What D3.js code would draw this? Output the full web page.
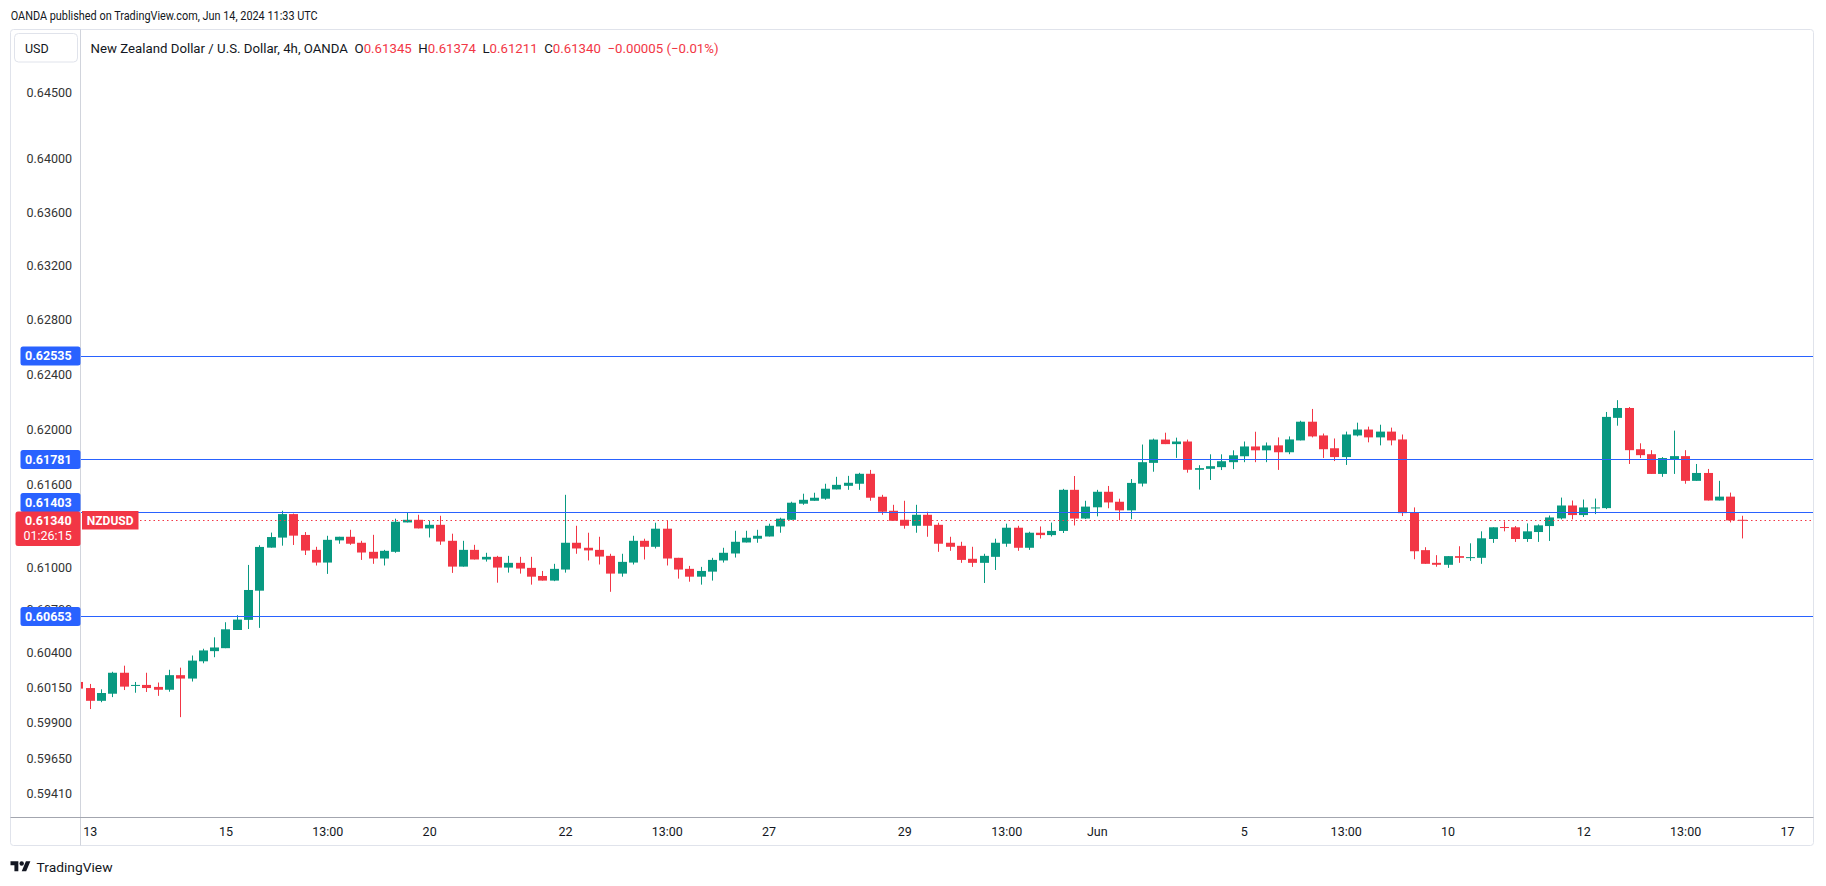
<!DOCTYPE html>
<html>
<head>
<meta charset="utf-8">
<script src="https://cdn.jsdelivr.net/npm/d3@7"></script>
<style>
  html, body { margin: 0; padding: 0; background: #ffffff; }
  svg { display: block; font-family: Roboto, "Noto Sans", Arial, sans-serif; }
</style>
</head>
<body>
<svg id="chart" width="1826" height="886"></svg>
<script>
// ---------------- DATA (NZDUSD 4h, OANDA) ----------------
// one entry per 4h bar; first bar is May 12 21:00 UTC, last is Jun 14 09:00 UTC
const opens = [
  0.60189,0.60146,0.60056,0.60106,0.60254,0.60163,0.60168,0.60154,0.60134,0.60237,
  0.60213,0.60335,0.60407,0.60428,0.60557,0.60629,0.60837,0.61145,0.61217,0.61386,
  0.61236,0.61129,0.61038,0.61197,0.61223,0.61180,0.61115,0.61067,0.61115,0.61326,
  0.61345,0.61283,0.61309,0.61194,0.61009,0.61129,0.61060,0.61079,0.61002,0.61036,
  0.61000,0.60942,0.60909,0.60988,0.61180,0.61144,0.61129,0.61086,0.60959,0.61038,
  0.61194,0.61151,0.61281,0.61072,0.60993,0.60937,0.60973,0.61053,0.61103,0.61182,
  0.61209,0.61225,0.61297,0.61345,0.61461,0.61482,0.61497,0.61564,0.61590,0.61605,
  0.61677,0.61511,0.61410,0.61345,0.61302,0.61381,0.61309,0.61180,0.61158,0.61065,
  0.61036,0.61079,0.61173,0.61288,0.61144,0.61252,0.61235,0.61265,0.61561,0.61354,
  0.61435,0.61547,0.61475,0.61413,0.61606,0.61756,0.61925,0.61892,0.61911,0.61706,
  0.61713,0.61725,0.61761,0.61804,0.61875,0.61847,0.61883,0.61833,0.61919,0.62055,
  0.61955,0.61862,0.61798,0.61955,0.61998,0.61941,0.61983,0.61926,0.61400,0.61127,
  0.61036,0.61022,0.61084,0.61072,0.61072,0.61207,0.61293,0.61291,0.61207,0.61257,
  0.61300,0.61355,0.61448,0.61379,0.61429,0.61429,0.62083,0.62155,0.61855,0.61819,
  0.61676,0.61783,0.61805,0.61626,0.61683,0.61484,0.61512,0.61345
];
const highs = [
  0.60195,0.60175,0.60137,0.60261,0.60304,0.60189,0.60254,0.60185,0.60275,0.60290,
  0.60376,0.60424,0.60505,0.60612,0.60662,0.61021,0.61162,0.61253,0.61410,0.61390,
  0.61257,0.61151,0.61230,0.61223,0.61273,0.61194,0.61237,0.61129,0.61353,0.61401,
  0.61381,0.61338,0.61374,0.61245,0.61194,0.61165,0.61108,0.61086,0.61086,0.61079,
  0.61079,0.60978,0.61029,0.61525,0.61302,0.61252,0.61223,0.61101,0.61101,0.61230,
  0.61209,0.61324,0.61338,0.61072,0.61014,0.61007,0.61072,0.61144,0.61266,0.61266,
  0.61273,0.61317,0.61360,0.61475,0.61533,0.61540,0.61605,0.61655,0.61662,0.61684,
  0.61705,0.61525,0.61453,0.61482,0.61453,0.61403,0.61324,0.61223,0.61187,0.61151,
  0.61101,0.61209,0.61317,0.61302,0.61259,0.61297,0.61325,0.61568,0.61661,0.61482,
  0.61561,0.61589,0.61497,0.61639,0.61889,0.61932,0.61975,0.61939,0.61925,0.61739,
  0.61818,0.61818,0.61847,0.61911,0.61982,0.61904,0.61941,0.61948,0.62062,0.62148,
  0.61969,0.61933,0.61983,0.62048,0.62019,0.62033,0.62012,0.61962,0.61434,0.61148,
  0.61091,0.61084,0.61155,0.61176,0.61262,0.61291,0.61334,0.61300,0.61319,0.61312,
  0.61376,0.61505,0.61484,0.61491,0.61498,0.62126,0.62212,0.62162,0.61898,0.61848,
  0.61798,0.61990,0.61848,0.61748,0.61712,0.61626,0.61541,0.61374
];
const lows = [
  0.60130,0.59998,0.60046,0.60082,0.60132,0.60113,0.60118,0.60091,0.60120,0.59941,
  0.60192,0.60321,0.60364,0.60428,0.60557,0.60564,0.60572,0.61145,0.61159,0.61164,
  0.61092,0.61017,0.60957,0.61173,0.61165,0.61057,0.61029,0.61017,0.61108,0.61326,
  0.61283,0.61218,0.61165,0.60964,0.61009,0.61060,0.61045,0.60894,0.60966,0.60959,
  0.60880,0.60909,0.60905,0.60966,0.61101,0.61053,0.61024,0.60829,0.60937,0.61024,
  0.61060,0.61139,0.61017,0.60923,0.60901,0.60880,0.60909,0.61038,0.61074,0.61182,
  0.61180,0.61225,0.61252,0.61345,0.61453,0.61482,0.61489,0.61564,0.61561,0.61561,
  0.61482,0.61381,0.61338,0.61281,0.61252,0.61223,0.61115,0.61122,0.61036,0.61007,
  0.60892,0.60985,0.61151,0.61122,0.61129,0.61210,0.61225,0.61250,0.61304,0.61350,
  0.61370,0.61428,0.61342,0.61349,0.61585,0.61692,0.61892,0.61792,0.61685,0.61563,
  0.61632,0.61704,0.61711,0.61761,0.61761,0.61761,0.61705,0.61819,0.61919,0.61941,
  0.61791,0.61769,0.61741,0.61948,0.61905,0.61883,0.61883,0.61372,0.61062,0.61029,
  0.61008,0.61000,0.61036,0.61050,0.61029,0.61179,0.61262,0.61186,0.61186,0.61186,
  0.61193,0.61348,0.61348,0.61365,0.61386,0.61422,0.62026,0.61748,0.61791,0.61676,
  0.61655,0.61676,0.61605,0.61626,0.61484,0.61484,0.61326,0.61211
];
const closes = [
  0.60142,0.60056,0.60111,0.60254,0.60156,0.60168,0.60146,0.60134,0.60237,0.60213,
  0.60340,0.60412,0.60433,0.60562,0.60631,0.60842,0.61150,0.61221,0.61386,0.61231,
  0.61124,0.61038,0.61201,0.61223,0.61173,0.61110,0.61067,0.61122,0.61331,0.61345,
  0.61283,0.61309,0.61189,0.61009,0.61129,0.61060,0.61079,0.61002,0.61036,0.60995,
  0.60937,0.60909,0.60993,0.61180,0.61139,0.61125,0.61081,0.60959,0.61043,0.61194,
  0.61151,0.61281,0.61067,0.60988,0.60937,0.60978,0.61057,0.61108,0.61187,0.61216,
  0.61230,0.61302,0.61353,0.61468,0.61489,0.61504,0.61569,0.61597,0.61612,0.61677,
  0.61504,0.61403,0.61338,0.61302,0.61381,0.61302,0.61173,0.61151,0.61057,0.61036,
  0.61086,0.61180,0.61288,0.61144,0.61252,0.61235,0.61265,0.61561,0.61354,0.61440,
  0.61547,0.61470,0.61413,0.61611,0.61761,0.61925,0.61892,0.61911,0.61706,0.61718,
  0.61732,0.61768,0.61811,0.61875,0.61847,0.61882,0.61833,0.61926,0.62055,0.61948,
  0.61855,0.61798,0.61962,0.61998,0.61941,0.61983,0.61919,0.61393,0.61119,0.61029,
  0.61022,0.61084,0.61072,0.61077,0.61212,0.61291,0.61286,0.61207,0.61262,0.61305,
  0.61362,0.61448,0.61379,0.61434,0.61434,0.62090,0.62155,0.61848,0.61812,0.61676,
  0.61791,0.61805,0.61626,0.61683,0.61484,0.61512,0.61341,0.61340
];

// horizontal levels (blue) and current price
const levelValues = [0.62535, 0.61781, 0.61403, 0.60653];
const lastPrice = 0.61340;
const countdown = "01:26:15";

// price axis ticks (log scale)
const priceTicks = [0.64500, 0.64000, 0.63600, 0.63200, 0.62800, 0.62400, 0.62000,
                    0.61600, 0.61000, 0.60700, 0.60400, 0.60150, 0.59900, 0.59650, 0.59410];

// time axis labels (bar index within arrays above)
const timeTickIndex = [1, 13, 22, 31, 43, 52, 61, 73, 82, 90, 103, 112, 121, 133, 142, 151];
const timeTickLabels = ["13", "15", "13:00", "20", "22", "13:00", "27", "29", "13:00", "Jun",
                        "5", "13:00", "10", "12", "13:00", "17"];

const headerText = "OANDA published on TradingView.com, Jun 14, 2024 11:33 UTC";
const titleText = "New Zealand Dollar / U.S. Dollar, 4h, OANDA";
const ohlcLetters = ["O", "H", "L", "C"];
const ohlcValues = ["0.61345", "0.61374", "0.61211", "0.61340"];
const changeText = "\u22120.00005 (\u22120.01%)";
const symbolText = "NZDUSD";

// ---------------- LAYOUT ----------------
const UP = "#089981", DOWN = "#f23645", BLUE = "#2962ff", TXT = "#131722";
const frameL = 10.5, frameR = 1813.5, frameT = 29.5, frameB = 845.5;
const sepX = 80.5, axisY = 817.5;

const svg = d3.select("#chart");

const x = d3.scaleLinear().domain([1, 151]).range([89.7, 1786.95]);
const y = d3.scaleLog().domain([0.5941, 0.645]).range([793, 92.3]);

// header
svg.append("text").attr("x", 10.7).attr("y", 19.5)
  .attr("font-size", 12).attr("fill", TXT)
  .attr("textLength", 307).attr("lengthAdjust", "spacingAndGlyphs")
  .text(headerText);

// frame
svg.append("rect").attr("x", frameL).attr("y", frameT)
  .attr("width", frameR - frameL).attr("height", frameB - frameT)
  .attr("rx", 3).attr("fill", "#fff").attr("stroke", "#e0e3eb");

// clip for plot
svg.append("defs").append("clipPath").attr("id", "plotclip")
  .append("rect").attr("x", sepX + 0.5).attr("y", frameT + 0.5)
  .attr("width", frameR - sepX - 1).attr("height", axisY - frameT - 1);

const plot = svg.append("g").attr("clip-path", "url(#plotclip)");

// candles
const bars = opens.map((o, i) => ({ i, o, h: highs[i], l: lows[i], c: closes[i] }));
const cg = plot.append("g");
bars.forEach(b => {
  const cx = Math.round(x(b.i)) + 0.5;
  const col = b.c >= b.o ? UP : DOWN;
  cg.append("line").attr("x1", cx).attr("x2", cx)
    .attr("y1", y(b.h)).attr("y2", y(b.l)).attr("stroke", col).attr("stroke-width", 1);
  const top = y(Math.max(b.o, b.c)), bot = y(Math.min(b.o, b.c));
  cg.append("rect").attr("x", cx - 4.5).attr("y", top)
    .attr("width", 9).attr("height", Math.max(1, bot - top)).attr("fill", col);
});

// levels
levelValues.forEach(v => {
  const yy = Math.round(y(v)) + 0.5;
  plot.append("line").attr("x1", sepX).attr("x2", frameR)
    .attr("y1", yy).attr("y2", yy).attr("stroke", BLUE).attr("stroke-width", 1.2);
});
// current price dotted line
const yl = Math.round(y(lastPrice)) + 0.5;
plot.append("line").attr("x1", 140).attr("x2", frameR)
  .attr("y1", yl).attr("y2", yl).attr("stroke", DOWN)
  .attr("stroke-width", 1).attr("stroke-dasharray", "1.5,3");

// symbol label
svg.append("rect").attr("x", 82).attr("y", yl - 9.5).attr("width", 56.5).attr("height", 18.5)
  .attr("fill", DOWN);
svg.append("text").attr("x", 110.2).attr("y", yl + 4.3).attr("text-anchor", "middle")
  .attr("font-size", 12).attr("font-weight", "bold").attr("fill", "#fff").text(symbolText);

// separators / axis borders
svg.append("line").attr("x1", sepX).attr("x2", sepX).attr("y1", frameT).attr("y2", frameB)
  .attr("stroke", "#d1d4dc");
svg.append("line").attr("x1", frameL).attr("x2", frameR).attr("y1", axisY).attr("y2", axisY)
  .attr("stroke", "#a3a6af");

// price axis
const yAxis = d3.axisLeft(y).tickValues(priceTicks).tickFormat(d3.format(".5f"))
  .tickSize(0).tickPadding(0);
const ya = svg.append("g").attr("transform", "translate(72,0)").call(yAxis);
ya.select(".domain").remove();
ya.selectAll("text").attr("font-size", 12.5).attr("fill", "#333")
  .attr("font-family", "Roboto, 'Noto Sans', Arial, sans-serif");

// level labels (blue)
const levelLabelShift = [0, 0, -9.2, 0];
levelValues.forEach((v, k) => {
  const cy = y(v) + levelLabelShift[k];
  svg.append("rect").attr("x", 20.5).attr("y", cy - 9.5).attr("width", 60).attr("height", 19)
    .attr("rx", 2.5).attr("fill", BLUE);
  svg.append("text").attr("x", 71.7).attr("y", cy + 4.3).attr("text-anchor", "end")
    .attr("font-size", 12.5).attr("font-weight", "bold").attr("fill", "#fff")
    .text(d3.format(".5f")(v));
});
// current price label (red) with countdown
const ry = y(lastPrice);
svg.append("rect").attr("x", 15.5).attr("y", ry - 9).attr("width", 65).attr("height", 34.5)
  .attr("rx", 2.5).attr("fill", DOWN);
svg.append("text").attr("x", 71.7).attr("y", ry + 4.8).attr("text-anchor", "end")
  .attr("font-size", 12.5).attr("font-weight", "bold").attr("fill", "#fff")
  .text(d3.format(".5f")(lastPrice));
svg.append("text").attr("x", 71.7).attr("y", ry + 20).attr("text-anchor", "end")
  .attr("font-size", 12.5).attr("fill", "#fff").text(countdown);

// time axis
const xAxis = d3.axisBottom(x).tickValues(timeTickIndex)
  .tickFormat((d, i) => timeTickLabels[i]).tickSize(0).tickPadding(9.5);
const xa = svg.append("g").attr("transform", `translate(0,${axisY})`).call(xAxis);
xa.select(".domain").remove();
xa.selectAll("text").attr("font-size", 12.5).attr("fill", TXT)
  .attr("font-family", "Roboto, 'Noto Sans', Arial, sans-serif");

// USD button
svg.append("rect").attr("x", 14.5).attr("y", 33.5).attr("width", 63).attr("height", 28.5)
  .attr("rx", 4).attr("fill", "#fff").attr("stroke", "#e0e3eb");
svg.append("text").attr("x", 25).attr("y", 53).attr("font-size", 12.5).attr("fill", TXT).text("USD");

// title legend line (single text so pieces never collide)
const leg = svg.append("text").attr("x", 90.6).attr("y", 52.5).attr("font-size", 13)
  .attr("fill", TXT).attr("textLength", 628).attr("lengthAdjust", "spacingAndGlyphs")
  .style("white-space", "pre");
leg.append("tspan").text(titleText + "  ");
ohlcLetters.forEach((l, k) => {
  leg.append("tspan").attr("fill", TXT).text(l);
  leg.append("tspan").attr("fill", DOWN).text(ohlcValues[k] + "  ");
});
leg.append("tspan").attr("fill", DOWN).text(changeText);

// TradingView logo
const logo = svg.append("g").attr("transform", "translate(10.5,859) scale(0.56)").attr("fill", TXT);
logo.append("path").attr("d", "M14 22H7V11H0V4h14v18zM28 22h-8l7.5-18h8L28 22z");
logo.append("circle").attr("cx", 20).attr("cy", 8).attr("r", 4);
svg.append("text").attr("x", 36.5).attr("y", 871.5).attr("font-size", 13).attr("fill", TXT)
  .attr("textLength", 76).attr("lengthAdjust", "spacingAndGlyphs").text("TradingView");
</script>
</body>
</html>
